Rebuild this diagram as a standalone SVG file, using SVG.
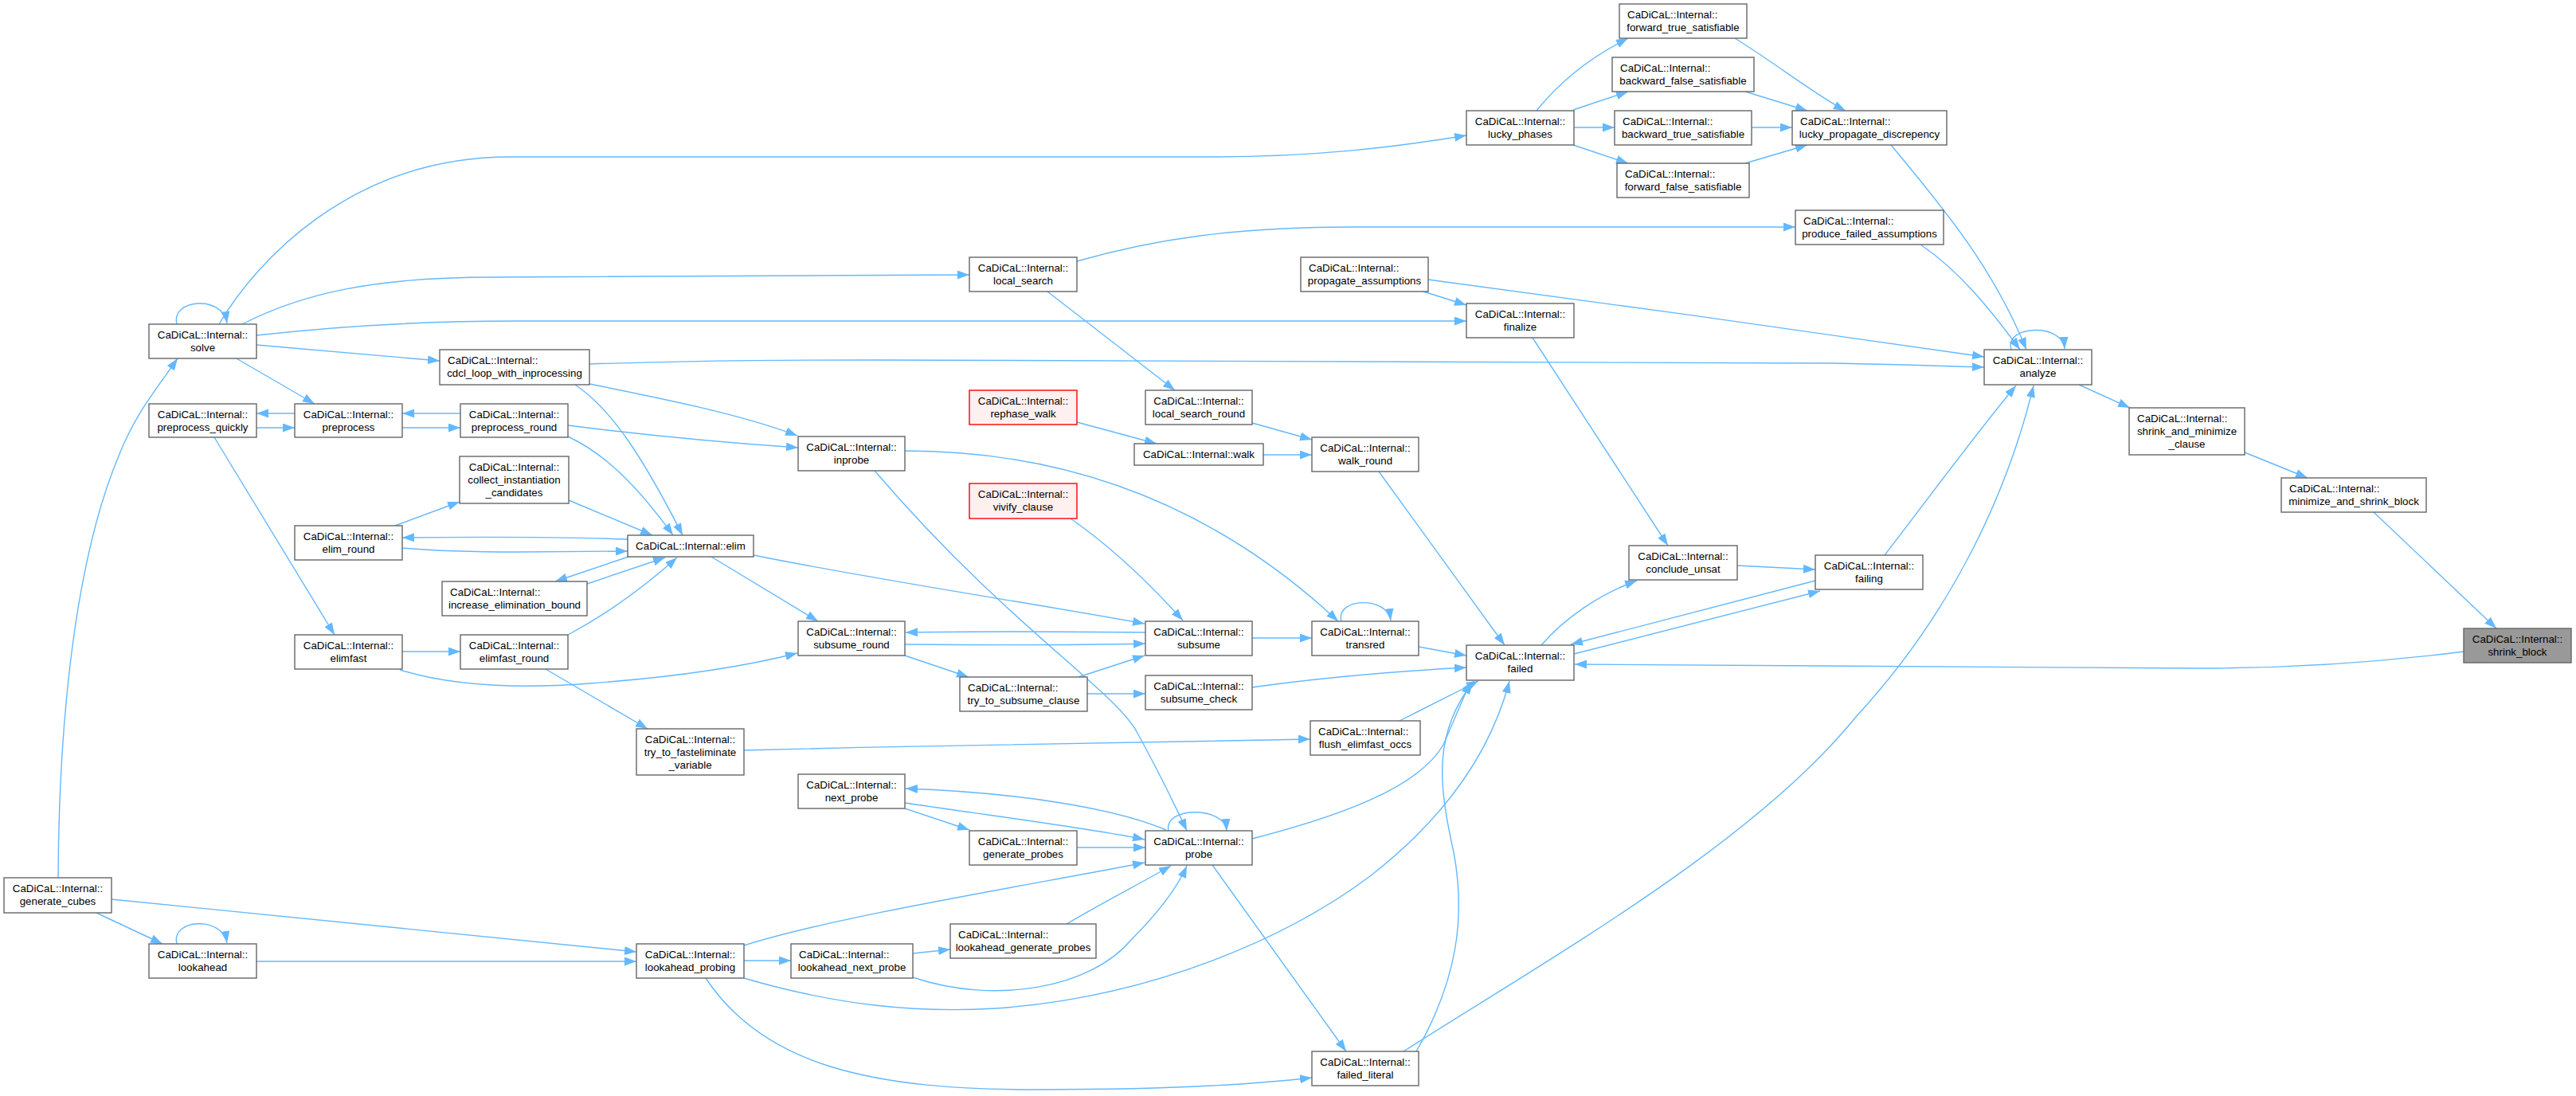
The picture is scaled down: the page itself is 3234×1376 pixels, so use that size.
<svg xmlns="http://www.w3.org/2000/svg" width="3234" height="1376" viewBox="0 0 3234 1376">
<style>
.n rect{fill:#ffffff;stroke:#666666;stroke-width:1.4}
.hl rect{fill:#999999;stroke:#666666}
.red rect{fill:#fff0f0;stroke:#ff0000}
text{font-family:"Liberation Sans",Arial,sans-serif;font-size:13.33px;fill:#000000}
.c{text-anchor:middle}
.s{text-anchor:start}
.e path{fill:none;stroke:#63b8ff;stroke-width:1.4;marker-end:url(#a)}
</style>
<defs>
<marker id="a" markerUnits="userSpaceOnUse" markerWidth="16" markerHeight="12" refX="15" refY="5.5" orient="auto"><path d="M0,0 L15,5.5 L0,11 z" fill="#63b8ff"/></marker>
</defs>
<rect width="3234" height="1376" fill="#ffffff"/>
<g id="edges" class="e">
<path d="M275,407 C320,330 440,197 640,197 L1520,197 C1650,197 1750,185 1841,170"/>
<path d="M222,407 C214,375 280,370 285,406"/>
<path d="M304,407 C380,368 470,348 620,348 L1217,345"/>
<path d="M322,421 C420,410 520,403 650,403 L1841,403"/>
<path d="M322,433 L552,453"/>
<path d="M295,449 L395,507"/>
<path d="M73,1102 C74,900 95,700 150,570 C170,520 195,490 223,450"/>
<path d="M370,519 L322,519"/>
<path d="M322,537 L370,537"/>
<path d="M578,519 L505,519"/>
<path d="M505,537 L578,537"/>
<path d="M269,549 L420,797"/>
<path d="M496,660 L577,630"/>
<path d="M714,628 L819,672"/>
<path d="M788,677 C700,674 600,674 505,675"/>
<path d="M505,688 C550,692 600,693 650,693 L788,692"/>
<path d="M792,698 L697,730"/>
<path d="M737,733 L835,700"/>
<path d="M713,797 C760,772 805,740 850,700"/>
<path d="M722,483 C770,515 810,580 857,672"/>
<path d="M713,548 C760,570 800,610 845,672"/>
<path d="M740,482 C830,500 930,520 1001,547"/>
<path d="M713,534 C800,545 900,555 1002,562"/>
<path d="M740,457 C900,452 1000,452 1100,452 L2300,456 C2400,458 2450,460 2491,461"/>
<path d="M1793,351 C2000,378 2300,420 2491,448"/>
<path d="M1787,366 L1841,383"/>
<path d="M1352,328 C1450,300 1550,285 1700,285 L2254,285"/>
<path d="M1315,366 L1475,490"/>
<path d="M1352,530 L1452,557"/>
<path d="M1572,531 L1647,552"/>
<path d="M1586,571 L1647,571"/>
<path d="M1136,566 C1350,566 1530,640 1680,780"/>
<path d="M1684,780 C1676,750 1742,748 1746,779"/>
<path d="M1781,812 L1841,823"/>
<path d="M1731,592 L1889,810"/>
<path d="M1572,801 L1647,801"/>
<path d="M1572,863 C1650,852 1750,843 1841,838"/>
<path d="M1757,905 L1856,855"/>
<path d="M1935,810 C1965,775 2010,745 2055,729"/>
<path d="M1924,424 L2094,685"/>
<path d="M2181,710 L2279,715"/>
<path d="M2279,729 L1972,809"/>
<path d="M1976,821 L2285,742"/>
<path d="M3093,818 C3000,830 2880,839 2760,839 L1977,834"/>
<path d="M2366,697 C2420,627 2480,545 2531,484"/>
<path d="M1762,1320 C1950,1200 2200,1060 2330,900 C2450,770 2520,620 2553,484"/>
<path d="M1778,1320 C1830,1230 1840,1150 1825,1070 C1805,980 1800,920 1850,855"/>
<path d="M1572,1053 C1680,1025 1780,990 1812,935 L1846,856"/>
<path d="M934,1228 C1050,1262 1150,1272 1250,1266 C1450,1252 1620,1175 1720,1100 C1810,1030 1870,950 1895,855"/>
<path d="M886,1228 C960,1340 1100,1368 1300,1368 C1450,1368 1570,1362 1647,1353"/>
<path d="M1467,1043 C1460,1012 1538,1012 1540,1043"/>
<path d="M1464,1042 C1400,1015 1280,995 1137,990"/>
<path d="M1136,1008 C1250,1025 1370,1040 1437,1054"/>
<path d="M1136,1015 L1217,1042"/>
<path d="M1352,1064 L1438,1064"/>
<path d="M934,1187 C1050,1150 1300,1110 1437,1083"/>
<path d="M1339,1160 C1390,1130 1430,1110 1470,1087"/>
<path d="M1146,1227 C1250,1262 1370,1240 1420,1180 C1460,1140 1480,1110 1490,1087"/>
<path d="M934,1206 L993,1206"/>
<path d="M1146,1197 L1193,1192"/>
<path d="M1098,591 C1260,780 1390,860 1425,915 C1450,960 1470,1000 1490,1043"/>
<path d="M1522,1086 L1690,1320"/>
<path d="M322,1207 L799,1207"/>
<path d="M140,1129 L799,1195"/>
<path d="M121,1146 L204,1185"/>
<path d="M222,1185 C214,1153 280,1150 285,1184"/>
<path d="M505,818 L578,818"/>
<path d="M685,840 L813,915"/>
<path d="M934,942 C1200,935 1500,929 1645,928"/>
<path d="M502,841 C570,862 650,865 740,858 C850,850 930,838 1001,820"/>
<path d="M893,699 L1027,780"/>
<path d="M946,697 C1100,728 1300,758 1437,783"/>
<path d="M1438,794 C1350,793 1250,792 1137,794"/>
<path d="M1136,809 C1250,810 1350,810 1438,808"/>
<path d="M1136,823 L1216,850"/>
<path d="M1354,850 L1437,823"/>
<path d="M1365,871 L1438,871"/>
<path d="M1344,651 C1400,690 1450,740 1485,779"/>
<path d="M1929,139 C1960,100 2000,70 2044,48"/>
<path d="M1975,138 L2044,115"/>
<path d="M1975,160 L2027,160"/>
<path d="M1975,182 L2044,205"/>
<path d="M2178,48 C2230,80 2280,120 2317,139"/>
<path d="M2191,115 L2269,139"/>
<path d="M2199,160 L2250,160"/>
<path d="M2191,205 L2269,182"/>
<path d="M2374,182 C2430,250 2500,330 2544,439"/>
<path d="M2411,307 C2460,340 2500,390 2536,439"/>
<path d="M2525,439 C2515,408 2590,405 2592,438"/>
<path d="M2610,483 L2674,512"/>
<path d="M2818,568 L2897,600"/>
<path d="M2980,643 L3134,789"/>
</g>
<g id="shrink_block" class="n hl"><rect x="3093" y="789" width="135" height="43"/><text class="c" x="3160.5" y="806.5">CaDiCaL::Internal::</text><text class="c" x="3160.5" y="822.5">shrink_block</text></g>
<g id="minimize_and_shrink_block" class="n"><rect x="2864" y="600" width="182" height="43"/><text class="s" x="2874" y="617.5">CaDiCaL::Internal::</text><text class="c" x="2955" y="633.5">minimize_and_shrink_block</text></g>
<g id="shrink_and_minimize_clause" class="n"><rect x="2673" y="512" width="145" height="59"/><text class="s" x="2683" y="529.5">CaDiCaL::Internal::</text><text class="c" x="2745.5" y="545.5">shrink_and_minimize</text><text class="c" x="2745.5" y="561.5">_clause</text></g>
<g id="analyze" class="n"><rect x="2491" y="439" width="135" height="44"/><text class="c" x="2558.5" y="456.5">CaDiCaL::Internal::</text><text class="c" x="2558.5" y="472.5">analyze</text></g>
<g id="failing" class="n"><rect x="2279" y="697" width="135" height="43"/><text class="c" x="2346.5" y="714.5">CaDiCaL::Internal::</text><text class="c" x="2346.5" y="730.5">failing</text></g>
<g id="conclude_unsat" class="n"><rect x="2045" y="685" width="136" height="43"/><text class="c" x="2113" y="702.5">CaDiCaL::Internal::</text><text class="c" x="2113" y="718.5">conclude_unsat</text></g>
<g id="failed" class="n"><rect x="1841" y="810" width="135" height="44"/><text class="c" x="1908.5" y="827.5">CaDiCaL::Internal::</text><text class="c" x="1908.5" y="843.5">failed</text></g>
<g id="lucky_phases" class="n"><rect x="1841" y="139" width="135" height="43"/><text class="c" x="1908.5" y="156.5">CaDiCaL::Internal::</text><text class="c" x="1908.5" y="172.5">lucky_phases</text></g>
<g id="forward_true_satisfiable" class="n"><rect x="2033" y="5" width="160" height="43"/><text class="s" x="2043" y="22.5">CaDiCaL::Internal::</text><text class="c" x="2113" y="38.5">forward_true_satisfiable</text></g>
<g id="backward_false_satisfiable" class="n"><rect x="2024" y="72" width="178" height="43"/><text class="s" x="2034" y="89.5">CaDiCaL::Internal::</text><text class="c" x="2113" y="105.5">backward_false_satisfiable</text></g>
<g id="backward_true_satisfiable" class="n"><rect x="2027" y="139" width="172" height="43"/><text class="s" x="2037" y="156.5">CaDiCaL::Internal::</text><text class="c" x="2113" y="172.5">backward_true_satisfiable</text></g>
<g id="forward_false_satisfiable" class="n"><rect x="2030" y="205" width="166" height="43"/><text class="s" x="2040" y="222.5">CaDiCaL::Internal::</text><text class="c" x="2113" y="238.5">forward_false_satisfiable</text></g>
<g id="lucky_propagate_discrepency" class="n"><rect x="2250" y="139" width="194" height="43"/><text class="s" x="2260" y="156.5">CaDiCaL::Internal::</text><text class="c" x="2347" y="172.5">lucky_propagate_discrepency</text></g>
<g id="produce_failed_assumptions" class="n"><rect x="2254" y="264" width="186" height="43"/><text class="s" x="2264" y="281.5">CaDiCaL::Internal::</text><text class="c" x="2347" y="297.5">produce_failed_assumptions</text></g>
<g id="propagate_assumptions" class="n"><rect x="1633" y="323" width="160" height="43"/><text class="s" x="1643" y="340.5">CaDiCaL::Internal::</text><text class="c" x="1713" y="356.5">propagate_assumptions</text></g>
<g id="finalize" class="n"><rect x="1841" y="381" width="135" height="43"/><text class="c" x="1908.5" y="398.5">CaDiCaL::Internal::</text><text class="c" x="1908.5" y="414.5">finalize</text></g>
<g id="local_search" class="n"><rect x="1217" y="323" width="135" height="43"/><text class="c" x="1284.5" y="340.5">CaDiCaL::Internal::</text><text class="c" x="1284.5" y="356.5">local_search</text></g>
<g id="solve" class="n"><rect x="187" y="407" width="135" height="43"/><text class="c" x="254.5" y="424.5">CaDiCaL::Internal::</text><text class="c" x="254.5" y="440.5">solve</text></g>
<g id="cdcl_loop_with_inprocessing" class="n"><rect x="552" y="439" width="188" height="44"/><text class="s" x="562" y="456.5">CaDiCaL::Internal::</text><text class="c" x="646" y="472.5">cdcl_loop_with_inprocessing</text></g>
<g id="walk_round" class="n"><rect x="1647" y="549" width="134" height="43"/><text class="c" x="1714" y="566.5">CaDiCaL::Internal::</text><text class="c" x="1714" y="582.5">walk_round</text></g>
<g id="transred" class="n"><rect x="1647" y="780" width="134" height="43"/><text class="c" x="1714" y="797.5">CaDiCaL::Internal::</text><text class="c" x="1714" y="813.5">transred</text></g>
<g id="flush_elimfast_occs" class="n"><rect x="1645" y="905" width="138" height="43"/><text class="s" x="1655" y="922.5">CaDiCaL::Internal::</text><text class="c" x="1714" y="938.5">flush_elimfast_occs</text></g>
<g id="failed_literal" class="n"><rect x="1647" y="1320" width="134" height="43"/><text class="c" x="1714" y="1337.5">CaDiCaL::Internal::</text><text class="c" x="1714" y="1353.5">failed_literal</text></g>
<g id="rephase_walk" class="n red"><rect x="1217" y="490" width="135" height="43"/><text class="c" x="1284.5" y="507.5">CaDiCaL::Internal::</text><text class="c" x="1284.5" y="523.5">rephase_walk</text></g>
<g id="local_search_round" class="n"><rect x="1438" y="490" width="134" height="43"/><text class="c" x="1505" y="507.5">CaDiCaL::Internal::</text><text class="c" x="1505" y="523.5">local_search_round</text></g>
<g id="walk" class="n"><rect x="1424" y="557" width="162" height="27"/><text class="c" x="1505" y="575">CaDiCaL::Internal::walk</text></g>
<g id="vivify_clause" class="n red"><rect x="1217" y="607" width="135" height="44"/><text class="c" x="1284.5" y="624.5">CaDiCaL::Internal::</text><text class="c" x="1284.5" y="640.5">vivify_clause</text></g>
<g id="inprobe" class="n"><rect x="1002" y="548" width="134" height="43"/><text class="c" x="1069" y="565.5">CaDiCaL::Internal::</text><text class="c" x="1069" y="581.5">inprobe</text></g>
<g id="subsume_round" class="n"><rect x="1002" y="780" width="134" height="43"/><text class="c" x="1069" y="797.5">CaDiCaL::Internal::</text><text class="c" x="1069" y="813.5">subsume_round</text></g>
<g id="subsume" class="n"><rect x="1438" y="780" width="134" height="43"/><text class="c" x="1505" y="797.5">CaDiCaL::Internal::</text><text class="c" x="1505" y="813.5">subsume</text></g>
<g id="try_to_subsume_clause" class="n"><rect x="1205" y="850" width="160" height="43"/><text class="s" x="1215" y="867.5">CaDiCaL::Internal::</text><text class="c" x="1285" y="883.5">try_to_subsume_clause</text></g>
<g id="subsume_check" class="n"><rect x="1438" y="848" width="134" height="43"/><text class="c" x="1505" y="865.5">CaDiCaL::Internal::</text><text class="c" x="1505" y="881.5">subsume_check</text></g>
<g id="next_probe" class="n"><rect x="1002" y="972" width="134" height="43"/><text class="c" x="1069" y="989.5">CaDiCaL::Internal::</text><text class="c" x="1069" y="1005.5">next_probe</text></g>
<g id="generate_probes" class="n"><rect x="1217" y="1043" width="135" height="43"/><text class="c" x="1284.5" y="1060.5">CaDiCaL::Internal::</text><text class="c" x="1284.5" y="1076.5">generate_probes</text></g>
<g id="probe" class="n"><rect x="1438" y="1043" width="134" height="43"/><text class="c" x="1505" y="1060.5">CaDiCaL::Internal::</text><text class="c" x="1505" y="1076.5">probe</text></g>
<g id="lookahead_probing" class="n"><rect x="799" y="1185" width="135" height="43"/><text class="c" x="866.5" y="1202.5">CaDiCaL::Internal::</text><text class="c" x="866.5" y="1218.5">lookahead_probing</text></g>
<g id="lookahead_next_probe" class="n"><rect x="993" y="1185" width="153" height="43"/><text class="s" x="1003" y="1202.5">CaDiCaL::Internal::</text><text class="c" x="1069.5" y="1218.5">lookahead_next_probe</text></g>
<g id="lookahead_generate_probes" class="n"><rect x="1193" y="1160" width="183" height="43"/><text class="s" x="1203" y="1177.5">CaDiCaL::Internal::</text><text class="c" x="1284.5" y="1193.5">lookahead_generate_probes</text></g>
<g id="generate_cubes" class="n"><rect x="5" y="1102" width="135" height="44"/><text class="c" x="72.5" y="1119.5">CaDiCaL::Internal::</text><text class="c" x="72.5" y="1135.5">generate_cubes</text></g>
<g id="lookahead" class="n"><rect x="187" y="1185" width="135" height="43"/><text class="c" x="254.5" y="1202.5">CaDiCaL::Internal::</text><text class="c" x="254.5" y="1218.5">lookahead</text></g>
<g id="preprocess_quickly" class="n"><rect x="187" y="507" width="135" height="42"/><text class="c" x="254.5" y="524.5">CaDiCaL::Internal::</text><text class="c" x="254.5" y="540.5">preprocess_quickly</text></g>
<g id="preprocess" class="n"><rect x="370" y="507" width="135" height="42"/><text class="c" x="437.5" y="524.5">CaDiCaL::Internal::</text><text class="c" x="437.5" y="540.5">preprocess</text></g>
<g id="preprocess_round" class="n"><rect x="578" y="507" width="135" height="42"/><text class="c" x="645.5" y="524.5">CaDiCaL::Internal::</text><text class="c" x="645.5" y="540.5">preprocess_round</text></g>
<g id="collect_instantiation_candidates" class="n"><rect x="577" y="573" width="137" height="59"/><text class="c" x="645.5" y="590.5">CaDiCaL::Internal::</text><text class="c" x="645.5" y="606.5">collect_instantiation</text><text class="c" x="645.5" y="622.5">_candidates</text></g>
<g id="elim_round" class="n"><rect x="370" y="660" width="135" height="43"/><text class="c" x="437.5" y="677.5">CaDiCaL::Internal::</text><text class="c" x="437.5" y="693.5">elim_round</text></g>
<g id="elim" class="n"><rect x="788" y="672" width="158" height="27"/><text class="c" x="867" y="690">CaDiCaL::Internal::elim</text></g>
<g id="increase_elimination_bound" class="n"><rect x="555" y="730" width="182" height="43"/><text class="s" x="565" y="747.5">CaDiCaL::Internal::</text><text class="c" x="646" y="763.5">increase_elimination_bound</text></g>
<g id="elimfast" class="n"><rect x="370" y="797" width="135" height="43"/><text class="c" x="437.5" y="814.5">CaDiCaL::Internal::</text><text class="c" x="437.5" y="830.5">elimfast</text></g>
<g id="elimfast_round" class="n"><rect x="578" y="797" width="135" height="43"/><text class="c" x="645.5" y="814.5">CaDiCaL::Internal::</text><text class="c" x="645.5" y="830.5">elimfast_round</text></g>
<g id="try_to_fasteliminate_variable" class="n"><rect x="799" y="915" width="135" height="58"/><text class="c" x="866.5" y="932.5">CaDiCaL::Internal::</text><text class="c" x="866.5" y="948.5">try_to_fasteliminate</text><text class="c" x="866.5" y="964.5">_variable</text></g>
</svg>
